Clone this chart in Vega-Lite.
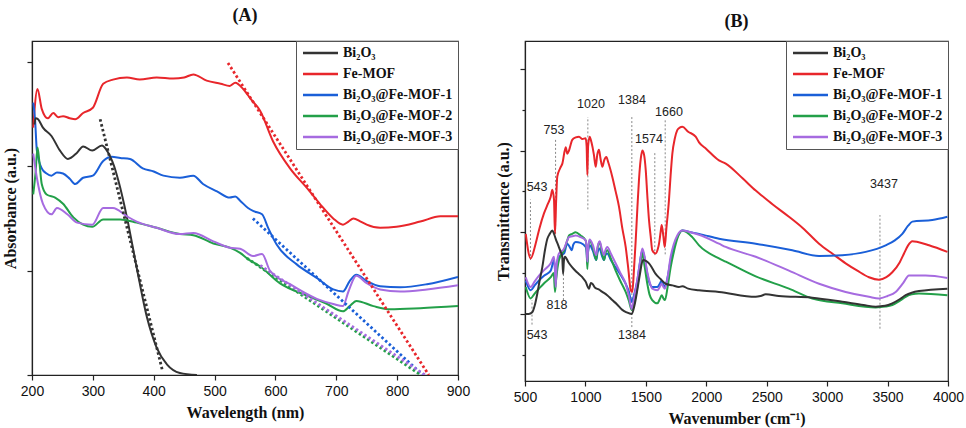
{
"$schema": "https://vega.github.io/schema/vega-lite/v6.json",
"background": "white",
"padding": {"left": 1, "top": 5, "right": 5, "bottom": 5},
"spacing": 23,
"config": {
 "view": {"stroke": "#222", "strokeWidth": 1.2},
 "axis": {"domainColor": "#222", "domainWidth": 1.2, "tickColor": "#222", "tickWidth": 1.2, "labelFont": "Liberation Sans", "labelFontSize": 14, "labelColor": "#111", "titleFont": "Liberation Serif", "titleFontSize": 16, "titleFontWeight": "bold", "titleColor": "#111", "grid": false, "labelPadding": 4, "labelFlush": false},
 "axisX": {"titlePadding": 6},
 "axisY": {"titlePadding": 8},
 "legend": {"orient": "top-right", "offset": 0, "strokeColor": "#555", "fillColor": "white", "padding": 5, "labelFont": "Liberation Serif", "labelFontWeight": "bold", "labelFontSize": 14, "labelColor": "#111", "symbolType": "M-1,0H6", "symbolSize": 100, "symbolStrokeWidth": 2.5, "labelOffset": 28, "rowPadding": 7, "title": null},
 "title": {"font": "Liberation Serif", "fontSize": 18, "fontWeight": "bold", "color": "#111", "anchor": "middle"}
},
"datasets": {
 "uvA": [
  {"s":"F","x":202,"y":2.37},{"s":"F","x":209,"y":2.74},{"s":"F","x":216,"y":2.55},{"s":"F","x":226,"y":2.46},{"s":"F","x":235,"y":2.51},{"s":"F","x":243,"y":2.47},{"s":"F","x":251,"y":2.48},{"s":"F","x":262,"y":2.46},{"s":"F","x":271,"y":2.45},{"s":"F","x":284,"y":2.51},{"s":"F","x":300,"y":2.56},{"s":"F","x":317,"y":2.79},{"s":"F","x":333,"y":2.83},{"s":"F","x":356,"y":2.85},{"s":"F","x":377,"y":2.83},{"s":"F","x":405,"y":2.85},{"s":"F","x":432,"y":2.84},{"s":"F","x":450,"y":2.85},{"s":"F","x":465,"y":2.88},{"s":"F","x":487,"y":2.82},{"s":"F","x":510,"y":2.79},{"s":"F","x":525,"y":2.77},{"s":"F","x":534,"y":2.80},{"s":"F","x":547,"y":2.74},{"s":"F","x":560,"y":2.64},{"s":"F","x":575,"y":2.53},{"s":"F","x":596,"y":2.24},{"s":"F","x":624,"y":1.98},{"s":"F","x":652,"y":1.79},{"s":"F","x":673,"y":1.64},{"s":"F","x":695,"y":1.50},{"s":"F","x":711,"y":1.44},{"s":"F","x":720,"y":1.47},{"s":"F","x":728,"y":1.50},{"s":"F","x":740,"y":1.47},{"s":"F","x":750,"y":1.44},{"s":"F","x":772,"y":1.41},{"s":"F","x":799,"y":1.42},{"s":"F","x":838,"y":1.47},{"s":"F","x":871,"y":1.52},{"s":"F","x":900,"y":1.52},
  {"s":"M1","x":202,"y":2.61},{"s":"M1","x":205,"y":2.45},{"s":"M1","x":208,"y":2.15},{"s":"M1","x":216,"y":1.98},{"s":"M1","x":224,"y":1.93},{"s":"M1","x":232,"y":1.91},{"s":"M1","x":241,"y":1.94},{"s":"M1","x":251,"y":1.93},{"s":"M1","x":262,"y":1.88},{"s":"M1","x":271,"y":1.83},{"s":"M1","x":284,"y":1.89},{"s":"M1","x":300,"y":1.91},{"s":"M1","x":317,"y":2.05},{"s":"M1","x":331,"y":2.09},{"s":"M1","x":345,"y":2.08},{"s":"M1","x":361,"y":2.07},{"s":"M1","x":382,"y":1.98},{"s":"M1","x":400,"y":1.95},{"s":"M1","x":416,"y":1.91},{"s":"M1","x":443,"y":1.89},{"s":"M1","x":465,"y":1.91},{"s":"M1","x":481,"y":1.83},{"s":"M1","x":504,"y":1.76},{"s":"M1","x":525,"y":1.70},{"s":"M1","x":534,"y":1.71},{"s":"M1","x":542,"y":1.67},{"s":"M1","x":555,"y":1.60},{"s":"M1","x":564,"y":1.57},{"s":"M1","x":578,"y":1.54},{"s":"M1","x":588,"y":1.41},{"s":"M1","x":602,"y":1.25},{"s":"M1","x":635,"y":1.06},{"s":"M1","x":668,"y":0.93},{"s":"M1","x":695,"y":0.82},{"s":"M1","x":711,"y":0.80},{"s":"M1","x":722,"y":0.90},{"s":"M1","x":733,"y":0.96},{"s":"M1","x":750,"y":0.90},{"s":"M1","x":772,"y":0.85},{"s":"M1","x":805,"y":0.84},{"s":"M1","x":849,"y":0.87},{"s":"M1","x":900,"y":0.94},
  {"s":"B","x":204,"y":2.40},{"s":"B","x":206,"y":2.46},{"s":"B","x":210,"y":2.45},{"s":"B","x":218,"y":2.37},{"s":"B","x":232,"y":2.29},{"s":"B","x":246,"y":2.15},{"s":"B","x":259,"y":2.07},{"s":"B","x":274,"y":2.13},{"s":"B","x":284,"y":2.19},{"s":"B","x":299,"y":2.15},{"s":"B","x":315,"y":2.20},{"s":"B","x":322,"y":2.16},{"s":"B","x":328,"y":2.10},{"s":"B","x":335,"y":2.00},{"s":"B","x":342,"y":1.86},{"s":"B","x":356,"y":1.51},{"s":"B","x":372,"y":1.03},{"s":"B","x":389,"y":0.55},{"s":"B","x":405,"y":0.26},{"s":"B","x":422,"y":0.10},{"s":"B","x":443,"y":0.02},{"s":"B","x":471,"y":0.0},
  {"s":"M2","x":202,"y":1.73},{"s":"M2","x":206,"y":1.95},{"s":"M2","x":209,"y":2.18},{"s":"M2","x":212,"y":2.05},{"s":"M2","x":216,"y":1.83},{"s":"M2","x":224,"y":1.73},{"s":"M2","x":238,"y":1.70},{"s":"M2","x":251,"y":1.64},{"s":"M2","x":268,"y":1.51},{"s":"M2","x":284,"y":1.44},{"s":"M2","x":299,"y":1.42},{"s":"M2","x":317,"y":1.49},{"s":"M2","x":345,"y":1.49},{"s":"M2","x":372,"y":1.46},{"s":"M2","x":405,"y":1.41},{"s":"M2","x":443,"y":1.35},{"s":"M2","x":465,"y":1.34},{"s":"M2","x":498,"y":1.26},{"s":"M2","x":525,"y":1.22},{"s":"M2","x":542,"y":1.17},{"s":"M2","x":555,"y":1.11},{"s":"M2","x":575,"y":1.04},{"s":"M2","x":607,"y":0.88},{"s":"M2","x":652,"y":0.76},{"s":"M2","x":685,"y":0.68},{"s":"M2","x":711,"y":0.61},{"s":"M2","x":722,"y":0.66},{"s":"M2","x":733,"y":0.71},{"s":"M2","x":761,"y":0.66},{"s":"M2","x":788,"y":0.63},{"s":"M2","x":838,"y":0.64},{"s":"M2","x":900,"y":0.66},
  {"s":"M3","x":202,"y":2.12},{"s":"M3","x":208,"y":1.89},{"s":"M3","x":218,"y":1.64},{"s":"M3","x":232,"y":1.54},{"s":"M3","x":241,"y":1.60},{"s":"M3","x":258,"y":1.54},{"s":"M3","x":274,"y":1.46},{"s":"M3","x":299,"y":1.44},{"s":"M3","x":317,"y":1.60},{"s":"M3","x":333,"y":1.60},{"s":"M3","x":356,"y":1.52},{"s":"M3","x":372,"y":1.47},{"s":"M3","x":405,"y":1.41},{"s":"M3","x":443,"y":1.35},{"s":"M3","x":465,"y":1.36},{"s":"M3","x":498,"y":1.28},{"s":"M3","x":525,"y":1.22},{"s":"M3","x":542,"y":1.21},{"s":"M3","x":563,"y":1.14},{"s":"M3","x":578,"y":1.16},{"s":"M3","x":591,"y":1.00},{"s":"M3","x":624,"y":0.87},{"s":"M3","x":668,"y":0.73},{"s":"M3","x":695,"y":0.68},{"s":"M3","x":711,"y":0.66},{"s":"M3","x":720,"y":0.80},{"s":"M3","x":733,"y":0.95},{"s":"M3","x":750,"y":0.88},{"s":"M3","x":772,"y":0.82},{"s":"M3","x":805,"y":0.80},{"s":"M3","x":849,"y":0.82},{"s":"M3","x":900,"y":0.86}
 ],
 "tanA": [
  {"s":"B","x":312,"y":2.45},{"s":"B","x":414,"y":0.05},
  {"s":"F","x":522,"y":2.99},{"s":"F","x":852,"y":0},
  {"s":"M1","x":563,"y":1.50},{"s":"M1","x":842,"y":0},
  {"s":"M2","x":553,"y":1.12},{"s":"M2","x":839,"y":0},
  {"s":"M3","x":575,"y":1.05},{"s":"M3","x":846,"y":0}
 ],
 "irB": [
  {"s":"F","x":506,"y":1.98},{"s":"F","x":547,"y":1.68},{"s":"F","x":588,"y":1.86},{"s":"F","x":620,"y":2.05},{"s":"F","x":657,"y":2.23},{"s":"F","x":690,"y":2.35},{"s":"F","x":712,"y":2.43},{"s":"F","x":726,"y":2.52},{"s":"F","x":740,"y":2.40},{"s":"F","x":748,"y":1.98},{"s":"F","x":758,"y":2.40},{"s":"F","x":767,"y":2.68},{"s":"F","x":790,"y":2.78},{"s":"F","x":809,"y":2.84},{"s":"F","x":837,"y":3.04},{"s":"F","x":850,"y":2.96},{"s":"F","x":864,"y":3.00},{"s":"F","x":891,"y":3.13},{"s":"F","x":920,"y":3.16},{"s":"F","x":947,"y":3.17},{"s":"F","x":975,"y":3.14},{"s":"F","x":1002,"y":3.15},{"s":"F","x":1010,"y":3.05},{"s":"F","x":1016,"y":2.70},{"s":"F","x":1022,"y":3.05},{"s":"F","x":1035,"y":3.17},{"s":"F","x":1050,"y":3.10},{"s":"F","x":1070,"y":2.95},{"s":"F","x":1085,"y":2.80},{"s":"F","x":1098,"y":2.95},{"s":"F","x":1112,"y":3.01},{"s":"F","x":1125,"y":2.90},{"s":"F","x":1140,"y":2.80},{"s":"F","x":1155,"y":2.88},{"s":"F","x":1173,"y":2.92},{"s":"F","x":1190,"y":2.85},{"s":"F","x":1222,"y":2.68},{"s":"F","x":1250,"y":2.50},{"s":"F","x":1278,"y":2.31},{"s":"F","x":1305,"y":2.05},{"s":"F","x":1333,"y":1.82},{"s":"F","x":1355,"y":1.55},{"s":"F","x":1375,"y":1.29},{"s":"F","x":1388,"y":1.27},{"s":"F","x":1400,"y":1.50},{"s":"F","x":1416,"y":1.90},{"s":"F","x":1430,"y":2.30},{"s":"F","x":1443,"y":2.64},{"s":"F","x":1458,"y":2.90},{"s":"F","x":1471,"y":3.00},{"s":"F","x":1485,"y":2.95},{"s":"F","x":1499,"y":2.76},{"s":"F","x":1512,"y":2.45},{"s":"F","x":1526,"y":2.15},{"s":"F","x":1540,"y":1.95},{"s":"F","x":1553,"y":1.78},{"s":"F","x":1581,"y":1.74},{"s":"F","x":1600,"y":1.80},{"s":"F","x":1609,"y":1.86},{"s":"F","x":1622,"y":2.00},{"s":"F","x":1631,"y":2.09},{"s":"F","x":1645,"y":1.95},{"s":"F","x":1656,"y":1.82},{"s":"F","x":1670,"y":2.05},{"s":"F","x":1691,"y":2.39},{"s":"F","x":1705,"y":2.70},{"s":"F","x":1719,"y":2.96},{"s":"F","x":1740,"y":3.15},{"s":"F","x":1760,"y":3.25},{"s":"F","x":1780,"y":3.28},{"s":"F","x":1802,"y":3.29},{"s":"F","x":1850,"y":3.23},{"s":"F","x":1912,"y":3.17},{"s":"F","x":1940,"y":3.10},{"s":"F","x":2000,"y":3.02},{"s":"F","x":2105,"y":2.88},{"s":"F","x":2161,"y":2.84},{"s":"F","x":2300,"y":2.66},{"s":"F","x":2409,"y":2.51},{"s":"F","x":2450,"y":2.46},{"s":"F","x":2550,"y":2.34},{"s":"F","x":2684,"y":2.19},{"s":"F","x":2800,"y":2.05},{"s":"F","x":2933,"y":1.86},{"s":"F","x":3050,"y":1.73},{"s":"F","x":3153,"y":1.62},{"s":"F","x":3250,"y":1.53},{"s":"F","x":3346,"y":1.45},{"s":"F","x":3429,"y":1.42},{"s":"F","x":3490,"y":1.45},{"s":"F","x":3539,"y":1.51},{"s":"F","x":3600,"y":1.63},{"s":"F","x":3636,"y":1.74},{"s":"F","x":3670,"y":1.84},{"s":"F","x":3705,"y":1.89},{"s":"F","x":3750,"y":1.88},{"s":"F","x":3843,"y":1.84},{"s":"F","x":3995,"y":1.76},
  {"s":"M1","x":506,"y":1.41},{"s":"M1","x":547,"y":1.29},{"s":"M1","x":580,"y":1.35},{"s":"M1","x":616,"y":1.41},{"s":"M1","x":660,"y":1.47},{"s":"M1","x":713,"y":1.53},{"s":"M1","x":740,"y":1.66},{"s":"M1","x":748,"y":1.55},{"s":"M1","x":754,"y":1.37},{"s":"M1","x":762,"y":1.60},{"s":"M1","x":781,"y":1.70},{"s":"M1","x":823,"y":1.74},{"s":"M1","x":850,"y":1.86},{"s":"M1","x":870,"y":1.82},{"s":"M1","x":886,"y":1.78},{"s":"M1","x":900,"y":1.85},{"s":"M1","x":919,"y":1.88},{"s":"M1","x":960,"y":1.87},{"s":"M1","x":1002,"y":1.82},{"s":"M1","x":1010,"y":1.75},{"s":"M1","x":1016,"y":1.62},{"s":"M1","x":1022,"y":1.76},{"s":"M1","x":1035,"y":1.84},{"s":"M1","x":1060,"y":1.78},{"s":"M1","x":1090,"y":1.66},{"s":"M1","x":1100,"y":1.75},{"s":"M1","x":1118,"y":1.80},{"s":"M1","x":1135,"y":1.72},{"s":"M1","x":1154,"y":1.66},{"s":"M1","x":1165,"y":1.72},{"s":"M1","x":1181,"y":1.74},{"s":"M1","x":1210,"y":1.66},{"s":"M1","x":1250,"y":1.57},{"s":"M1","x":1290,"y":1.48},{"s":"M1","x":1333,"y":1.37},{"s":"M1","x":1360,"y":1.27},{"s":"M1","x":1383,"y":1.15},{"s":"M1","x":1400,"y":1.22},{"s":"M1","x":1429,"y":1.41},{"s":"M1","x":1450,"y":1.62},{"s":"M1","x":1471,"y":1.78},{"s":"M1","x":1490,"y":1.68},{"s":"M1","x":1512,"y":1.49},{"s":"M1","x":1530,"y":1.38},{"s":"M1","x":1553,"y":1.33},{"s":"M1","x":1595,"y":1.33},{"s":"M1","x":1615,"y":1.37},{"s":"M1","x":1631,"y":1.41},{"s":"M1","x":1645,"y":1.36},{"s":"M1","x":1658,"y":1.33},{"s":"M1","x":1680,"y":1.45},{"s":"M1","x":1705,"y":1.66},{"s":"M1","x":1730,"y":1.82},{"s":"M1","x":1760,"y":1.94},{"s":"M1","x":1802,"y":2.02},{"s":"M1","x":1870,"y":2.00},{"s":"M1","x":1940,"y":1.98},{"s":"M1","x":2105,"y":1.92},{"s":"M1","x":2409,"y":1.86},{"s":"M1","x":2712,"y":1.78},{"s":"M1","x":2933,"y":1.71},{"s":"M1","x":3125,"y":1.72},{"s":"M1","x":3319,"y":1.76},{"s":"M1","x":3484,"y":1.84},{"s":"M1","x":3560,"y":1.90},{"s":"M1","x":3622,"y":1.98},{"s":"M1","x":3670,"y":2.08},{"s":"M1","x":3705,"y":2.13},{"s":"M1","x":3870,"y":2.15},{"s":"M1","x":3995,"y":2.19},
  {"s":"M2","x":506,"y":1.33},{"s":"M2","x":547,"y":1.19},{"s":"M2","x":580,"y":1.25},{"s":"M2","x":616,"y":1.31},{"s":"M2","x":660,"y":1.38},{"s":"M2","x":713,"y":1.45},{"s":"M2","x":738,"y":1.50},{"s":"M2","x":748,"y":1.27},{"s":"M2","x":756,"y":1.40},{"s":"M2","x":781,"y":1.66},{"s":"M2","x":823,"y":1.78},{"s":"M2","x":850,"y":1.90},{"s":"M2","x":864,"y":1.96},{"s":"M2","x":890,"y":1.98},{"s":"M2","x":919,"y":2.00},{"s":"M2","x":960,"y":1.96},{"s":"M2","x":1002,"y":1.90},{"s":"M2","x":1010,"y":1.78},{"s":"M2","x":1016,"y":1.55},{"s":"M2","x":1022,"y":1.78},{"s":"M2","x":1035,"y":1.90},{"s":"M2","x":1060,"y":1.82},{"s":"M2","x":1090,"y":1.66},{"s":"M2","x":1100,"y":1.80},{"s":"M2","x":1118,"y":1.88},{"s":"M2","x":1135,"y":1.76},{"s":"M2","x":1154,"y":1.66},{"s":"M2","x":1165,"y":1.74},{"s":"M2","x":1181,"y":1.78},{"s":"M2","x":1210,"y":1.68},{"s":"M2","x":1250,"y":1.53},{"s":"M2","x":1290,"y":1.40},{"s":"M2","x":1333,"y":1.27},{"s":"M2","x":1360,"y":1.16},{"s":"M2","x":1383,"y":1.05},{"s":"M2","x":1400,"y":1.12},{"s":"M2","x":1429,"y":1.33},{"s":"M2","x":1450,"y":1.55},{"s":"M2","x":1471,"y":1.74},{"s":"M2","x":1490,"y":1.58},{"s":"M2","x":1512,"y":1.37},{"s":"M2","x":1530,"y":1.24},{"s":"M2","x":1553,"y":1.17},{"s":"M2","x":1595,"y":1.13},{"s":"M2","x":1615,"y":1.18},{"s":"M2","x":1631,"y":1.23},{"s":"M2","x":1645,"y":1.19},{"s":"M2","x":1658,"y":1.17},{"s":"M2","x":1680,"y":1.33},{"s":"M2","x":1705,"y":1.57},{"s":"M2","x":1730,"y":1.75},{"s":"M2","x":1760,"y":1.92},{"s":"M2","x":1802,"y":2.02},{"s":"M2","x":1884,"y":1.94},{"s":"M2","x":1940,"y":1.84},{"s":"M2","x":2105,"y":1.68},{"s":"M2","x":2161,"y":1.64},{"s":"M2","x":2409,"y":1.46},{"s":"M2","x":2684,"y":1.31},{"s":"M2","x":2877,"y":1.19},{"s":"M2","x":3125,"y":1.13},{"s":"M2","x":3402,"y":1.08},{"s":"M2","x":3480,"y":1.09},{"s":"M2","x":3539,"y":1.11},{"s":"M2","x":3600,"y":1.16},{"s":"M2","x":3650,"y":1.21},{"s":"M2","x":3700,"y":1.24},{"s":"M2","x":3760,"y":1.25},{"s":"M2","x":3995,"y":1.23},
  {"s":"M3","x":506,"y":1.45},{"s":"M3","x":547,"y":1.33},{"s":"M3","x":580,"y":1.40},{"s":"M3","x":616,"y":1.47},{"s":"M3","x":660,"y":1.54},{"s":"M3","x":713,"y":1.62},{"s":"M3","x":740,"y":1.70},{"s":"M3","x":748,"y":1.55},{"s":"M3","x":754,"y":1.33},{"s":"M3","x":762,"y":1.60},{"s":"M3","x":781,"y":1.74},{"s":"M3","x":823,"y":1.80},{"s":"M3","x":850,"y":1.90},{"s":"M3","x":864,"y":1.94},{"s":"M3","x":890,"y":1.95},{"s":"M3","x":919,"y":1.96},{"s":"M3","x":960,"y":1.94},{"s":"M3","x":1002,"y":1.90},{"s":"M3","x":1010,"y":1.80},{"s":"M3","x":1016,"y":1.64},{"s":"M3","x":1022,"y":1.80},{"s":"M3","x":1035,"y":1.91},{"s":"M3","x":1060,"y":1.85},{"s":"M3","x":1090,"y":1.72},{"s":"M3","x":1100,"y":1.82},{"s":"M3","x":1118,"y":1.89},{"s":"M3","x":1135,"y":1.80},{"s":"M3","x":1154,"y":1.72},{"s":"M3","x":1165,"y":1.78},{"s":"M3","x":1181,"y":1.82},{"s":"M3","x":1210,"y":1.74},{"s":"M3","x":1250,"y":1.62},{"s":"M3","x":1290,"y":1.50},{"s":"M3","x":1333,"y":1.37},{"s":"M3","x":1360,"y":1.22},{"s":"M3","x":1383,"y":1.06},{"s":"M3","x":1400,"y":1.18},{"s":"M3","x":1429,"y":1.41},{"s":"M3","x":1450,"y":1.62},{"s":"M3","x":1471,"y":1.80},{"s":"M3","x":1490,"y":1.70},{"s":"M3","x":1512,"y":1.51},{"s":"M3","x":1530,"y":1.40},{"s":"M3","x":1553,"y":1.31},{"s":"M3","x":1595,"y":1.29},{"s":"M3","x":1615,"y":1.33},{"s":"M3","x":1631,"y":1.37},{"s":"M3","x":1645,"y":1.33},{"s":"M3","x":1658,"y":1.31},{"s":"M3","x":1680,"y":1.45},{"s":"M3","x":1705,"y":1.70},{"s":"M3","x":1730,"y":1.85},{"s":"M3","x":1760,"y":1.96},{"s":"M3","x":1802,"y":2.02},{"s":"M3","x":1870,"y":2.00},{"s":"M3","x":1940,"y":1.97},{"s":"M3","x":2105,"y":1.86},{"s":"M3","x":2161,"y":1.82},{"s":"M3","x":2409,"y":1.70},{"s":"M3","x":2684,"y":1.53},{"s":"M3","x":2933,"y":1.37},{"s":"M3","x":3153,"y":1.27},{"s":"M3","x":3346,"y":1.21},{"s":"M3","x":3429,"y":1.19},{"s":"M3","x":3500,"y":1.22},{"s":"M3","x":3567,"y":1.27},{"s":"M3","x":3630,"y":1.38},{"s":"M3","x":3677,"y":1.47},{"s":"M3","x":3815,"y":1.47},{"s":"M3","x":3995,"y":1.44},
  {"s":"B","x":506,"y":1.00},{"s":"B","x":530,"y":1.00},{"s":"B","x":560,"y":1.02},{"s":"B","x":580,"y":1.10},{"s":"B","x":602,"y":1.25},{"s":"B","x":620,"y":1.40},{"s":"B","x":643,"y":1.57},{"s":"B","x":665,"y":1.78},{"s":"B","x":685,"y":1.92},{"s":"B","x":705,"y":1.98},{"s":"B","x":726,"y":2.02},{"s":"B","x":740,"y":1.98},{"s":"B","x":754,"y":1.92},{"s":"B","x":775,"y":1.84},{"s":"B","x":795,"y":1.76},{"s":"B","x":808,"y":1.70},{"s":"B","x":815,"y":1.49},{"s":"B","x":822,"y":1.65},{"s":"B","x":831,"y":1.70},{"s":"B","x":860,"y":1.63},{"s":"B","x":891,"y":1.57},{"s":"B","x":930,"y":1.51},{"s":"B","x":974,"y":1.45},{"s":"B","x":1000,"y":1.40},{"s":"B","x":1030,"y":1.31},{"s":"B","x":1045,"y":1.38},{"s":"B","x":1057,"y":1.37},{"s":"B","x":1080,"y":1.32},{"s":"B","x":1110,"y":1.30},{"s":"B","x":1140,"y":1.27},{"s":"B","x":1180,"y":1.23},{"s":"B","x":1222,"y":1.17},{"s":"B","x":1260,"y":1.12},{"s":"B","x":1305,"y":1.05},{"s":"B","x":1340,"y":1.02},{"s":"B","x":1383,"y":1.00},{"s":"B","x":1405,"y":1.10},{"s":"B","x":1429,"y":1.29},{"s":"B","x":1450,"y":1.48},{"s":"B","x":1476,"y":1.66},{"s":"B","x":1500,"y":1.65},{"s":"B","x":1526,"y":1.62},{"s":"B","x":1553,"y":1.56},{"s":"B","x":1581,"y":1.49},{"s":"B","x":1620,"y":1.43},{"s":"B","x":1664,"y":1.37},{"s":"B","x":1720,"y":1.35},{"s":"B","x":1774,"y":1.33},{"s":"B","x":1802,"y":1.34},{"s":"B","x":1850,"y":1.31},{"s":"B","x":1940,"y":1.29},{"s":"B","x":2105,"y":1.27},{"s":"B","x":2409,"y":1.21},{"s":"B","x":2450,"y":1.22},{"s":"B","x":2492,"y":1.24},{"s":"B","x":2600,"y":1.22},{"s":"B","x":2877,"y":1.20},{"s":"B","x":3125,"y":1.15},{"s":"B","x":3300,"y":1.11},{"s":"B","x":3402,"y":1.09},{"s":"B","x":3480,"y":1.10},{"s":"B","x":3539,"y":1.13},{"s":"B","x":3600,"y":1.18},{"s":"B","x":3650,"y":1.23},{"s":"B","x":3700,"y":1.26},{"s":"B","x":3760,"y":1.28},{"s":"B","x":3995,"y":1.31}
 ],
 "refB": [
  {"x":545,"y1":1.66,"y2":2.40},{"x":753,"y1":1.98,"y2":3.13},{"x":1020,"y1":2.28,"y2":3.41},{"x":1384,"y1":0.84,"y2":3.41},{"x":1574,"y1":1.72,"y2":2.98},{"x":1660,"y1":1.73,"y2":3.37},{"x":818,"y1":1.17,"y2":1.70},{"x":558,"y1":0.87,"y2":1.17},{"x":3437,"y1":0.82,"y2":2.21}
 ],
 "labB": [
  {"t":"543","x":600,"y":2.55},{"t":"753","x":740,"y":3.25},{"t":"1020","x":1046,"y":3.57},{"t":"1384","x":1385,"y":3.62},{"t":"1574","x":1526,"y":3.14},{"t":"1660","x":1691,"y":3.47},{"t":"818","x":765,"y":1.11},{"t":"543","x":600,"y":0.74},{"t":"1384","x":1385,"y":0.74},{"t":"3437","x":3470,"y":2.59}
 ]
},
"resolve": {"scale": {"color": "independent"}, "legend": {"color": "independent"}},
"hconcat": [
 {
  "title": {"text": "(A)", "offset": 16},
  "width": 426, "height": 334,
  "layer": [
   {"data": {"name": "uvA"}, "mark": {"type": "line", "strokeWidth": 2, "clip": true, "interpolate": "monotone"},
    "encoding": {
     "x": {"field": "x", "type": "quantitative", "scale": {"domain": [200, 900], "nice": false, "zero": false},
      "axis": {"title": "Wavelength (nm)", "values": [200,250,300,350,400,450,500,550,600,650,700,750,800,850,900], "labelExpr": "datum.value % 100 === 0 ? datum.label : ''", "tickSize": {"condition": {"test": "datum.value % 100 !== 0", "value": 3}, "value": 5}}},
     "y": {"field": "y", "type": "quantitative", "scale": {"domain": [0, 3.2], "nice": false, "zero": false},
      "axis": {"title": "Absorbance (a.u.)", "values": [0, 1, 2, 3], "labels": false, "tickSize": 5}},
     "color": {"field": "s", "type": "nominal", "scale": {"domain": ["B","F","M1","M2","M3"], "range": ["#333333","#e8262b","#1a5fd8","#23a049","#a66be0"]},
      "legend": {"labelExpr": "{'B':'Bi₂O₃','F':'Fe-MOF','M1':'Bi₂O₃@Fe-MOF-1','M2':'Bi₂O₃@Fe-MOF-2','M3':'Bi₂O₃@Fe-MOF-3'}[datum.label]"}}
    }},
   {"data": {"name": "tanA"}, "mark": {"type": "line", "strokeWidth": 2.8, "strokeDash": [2.5, 2.5], "clip": true},
    "encoding": {
     "x": {"field": "x", "type": "quantitative"},
     "y": {"field": "y", "type": "quantitative"},
     "color": {"field": "s", "type": "nominal", "legend": null}
    }}
  ]
 },
 {
  "title": {"text": "(B)", "offset": 10},
  "width": 423, "height": 340,
  "layer": [
   {"data": {"name": "refB"}, "mark": {"type": "rule", "color": "#888888", "strokeWidth": 1, "strokeDash": [2, 2]},
    "encoding": {
     "x": {"field": "x", "type": "quantitative", "scale": {"domain": [500, 4000], "nice": false, "zero": false},
      "axis": {"title": "Wavenumber (cm⁻¹)", "values": [500,750,1000,1250,1500,1750,2000,2250,2500,2750,3000,3250,3500,3750,4000], "labelExpr": "datum.value % 500 === 0 ? datum.label : ''", "tickSize": {"condition": {"test": "datum.value % 500 !== 0", "value": 3}, "value": 5}, "format": "d"}},
     "y": {"field": "y1", "type": "quantitative", "scale": {"domain": [0.18, 4.34], "nice": false, "zero": false},
      "axis": {"title": "Transmittance (a.u.)", "values": [0.5, 1, 1.5, 2, 2.5, 3, 3.5, 4], "labels": false, "tickSize": {"condition": {"test": "datum.value % 1 !== 0", "value": 3}, "value": 5}}},
     "y2": {"field": "y2"}
    }},
   {"data": {"name": "irB"}, "mark": {"type": "line", "strokeWidth": 2, "clip": true, "interpolate": "monotone"},
    "encoding": {
     "x": {"field": "x", "type": "quantitative"},
     "y": {"field": "y", "type": "quantitative"},
     "color": {"field": "s", "type": "nominal", "scale": {"domain": ["B","F","M1","M2","M3"], "range": ["#333333","#e8262b","#1a5fd8","#23a049","#a66be0"]},
      "legend": {"labelExpr": "{'B':'Bi₂O₃','F':'Fe-MOF','M1':'Bi₂O₃@Fe-MOF-1','M2':'Bi₂O₃@Fe-MOF-2','M3':'Bi₂O₃@Fe-MOF-3'}[datum.label]"}}
    }},
   {"data": {"name": "labB"}, "mark": {"type": "text", "font": "Liberation Sans", "fontSize": 12.5, "color": "#222222", "baseline": "middle", "align": "center"},
    "encoding": {
     "x": {"field": "x", "type": "quantitative"},
     "y": {"field": "y", "type": "quantitative"},
     "text": {"field": "t", "type": "nominal"}
    }}
  ]
 }
]
}
